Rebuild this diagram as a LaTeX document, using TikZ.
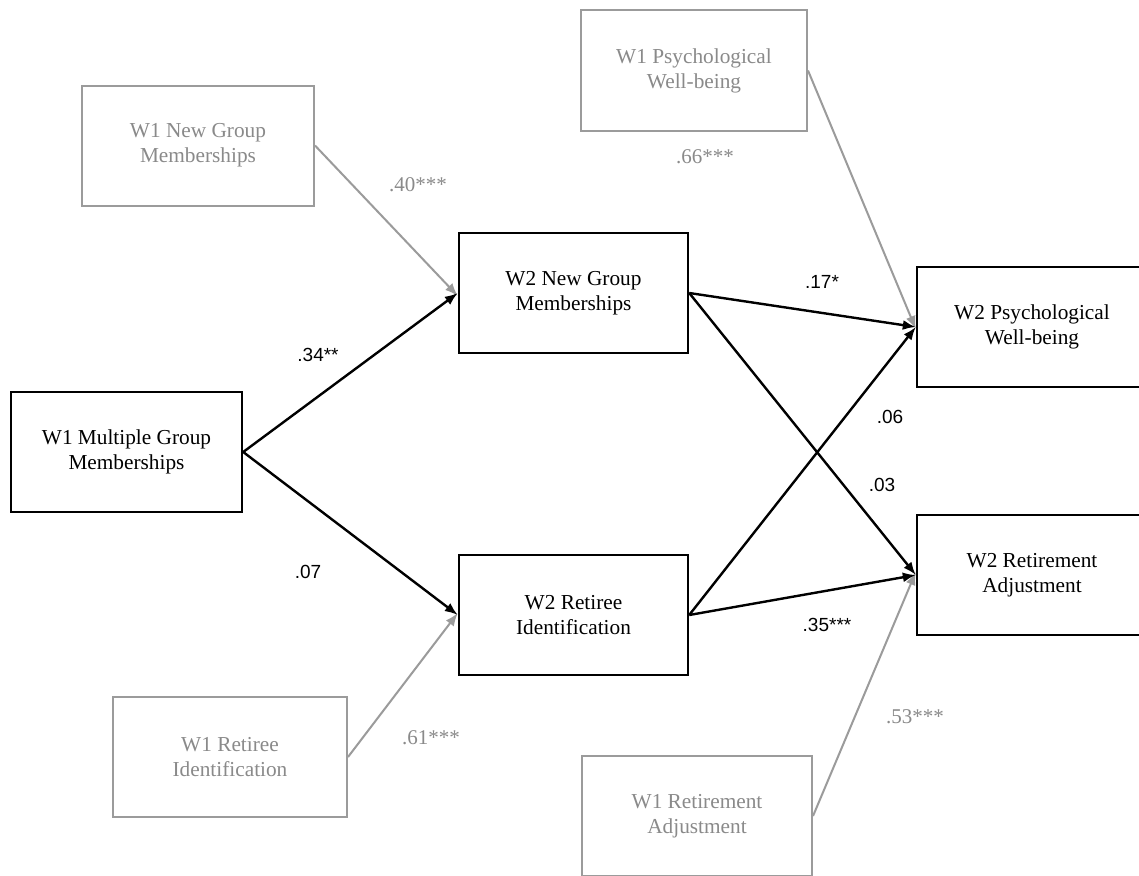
\documentclass[tikz,border=0pt]{standalone}
\usepackage{fontspec}
\setmainfont{Liberation Serif}
\setsansfont{Liberation Sans}
\usetikzlibrary{arrows.meta}
\definecolor{lightline}{HTML}{9B9B9B}
\definecolor{lighttext}{HTML}{8A8A8A}
\begin{document}
\begin{tikzpicture}[x=1pt,y=-1pt,
  box/.style={draw=black, line width=2.4pt, minimum width=230pt, minimum height=120pt,
    align=center, inner sep=0pt, font=\fontsize{21.3}{25}\selectfont},
  ghost/.style={box, draw=lightline, line width=2pt, text=lighttext},
  link/.style={line width=2.4pt, -{Latex[length=13pt,width=10pt]}},
  glink/.style={draw=lightline, line width=2pt, -{Latex[length=13pt,width=10pt]}},
  coef/.style={font=\sffamily\fontsize{19}{22}\selectfont, inner sep=0pt},
  gcoef/.style={font=\fontsize{21}{24}\selectfont, text=lighttext, inner sep=0pt}
]
\clip (0,0) rectangle (1139,875);
\fill[white] (0,0) rectangle (1139,875);

% main nodes
\node[box, minimum width=231pt] (m1) at (126.5,452) {W1 Multiple Group\\Memberships};
\node[box, minimum width=229pt] (n2) at (573.5,293) {W2 New Group\\Memberships};
\node[box, minimum width=229pt] (r2) at (573.5,615) {W2 Retiree\\Identification};
\node[box] (p2) at (1032,327) {W2 Psychological\\Well-being};
\node[box] (a2) at (1032,575) {W2 Retirement\\Adjustment};

% wave-1 control nodes
\node[ghost, minimum width=232pt] (n1) at (198,145.5) {W1 New Group\\Memberships};
\node[ghost, minimum width=234pt] (r1) at (230,757) {W1 Retiree\\Identification};
\node[ghost, minimum width=226pt] (p1) at (694,70.5) {W1 Psychological\\Well-being};
\node[ghost] (a1) at (697,816) {W1 Retirement\\Adjustment};

% gray paths
\draw[glink] (n1.east) -- ([yshift=-3pt]n2.west);
\draw[glink] (r1.east) -- ([yshift=2pt]r2.west);
\draw[glink] (p1.east) -- ([yshift=-2pt]p2.west);
\draw[glink] (a1.east) -- ([yshift=3pt]a2.west);

% black paths
\draw[link] (m1.east) -- (n2.west);
\draw[link] (m1.east) -- (r2.west);
\draw[link] (n2.east) -- (p2.west);
\draw[link] (n2.east) -- (a2.west);
\draw[link] (r2.east) -- (p2.west);
\draw[link] (r2.east) -- (a2.west);

% coefficients
\node[coef] (c1) at (318,355) {.34**};
\node[coef] (c2) at (308,572) {.07};
\node[coef] (c3) at (822,282) {.17*};
\node[coef] (c4) at (890,417) {.06};
\node[coef] (c5) at (882,485) {.03};
\node[coef] (c6) at (827,625) {.35***};
\node[gcoef] (g1) at (418,185) {.40***};
\node[gcoef] (g2) at (431,738) {.61***};
\node[gcoef] (g3) at (915,717) {.53***};
\node[gcoef] (g4) at (705,157) {.66***};
\end{tikzpicture}
\end{document}
